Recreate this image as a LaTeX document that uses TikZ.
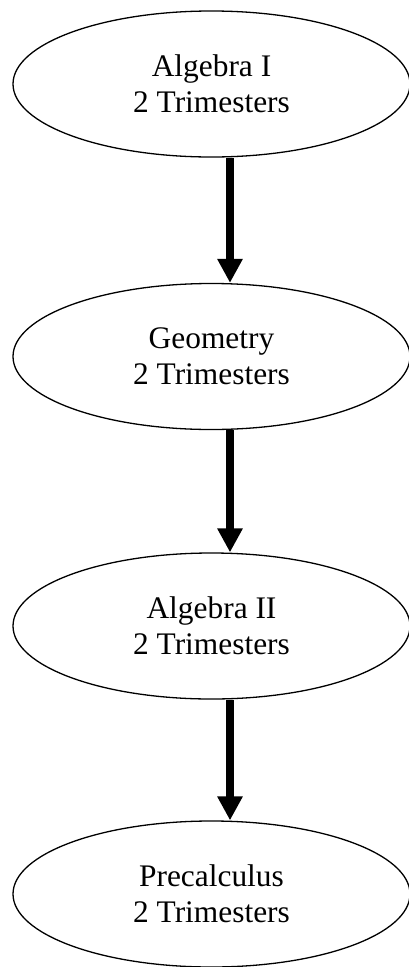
\documentclass[tikz,border=0pt]{standalone}
\usepackage{fontspec}
\setmainfont{Liberation Serif}
\usetikzlibrary{shapes.geometric,arrows.meta}
\begin{document}
\begin{tikzpicture}[x=1pt,y=1pt,
  course/.style={draw=black,line width=1.3pt,ellipse,minimum width=397pt,minimum height=146pt,inner sep=0pt,align=center,font=\fontsize{31.4}{36}\selectfont},
  link/.style={line width=7.5pt,-{Triangle[width=24pt,length=24pt]}}]
\useasboundingbox (0,0) rectangle (409,-967);
\node[course] (a1) at (211.5,-84) {Algebra I\\2 Trimesters};
\node[course] (g) at (211.5,-356.5) {Geometry\\2 Trimesters};
\node[course] (a2) at (211.5,-626) {Algebra II\\2 Trimesters};
\node[course] (pc) at (211.5,-894) {Precalculus\\2 Trimesters};
\coordinate (ax) at (230,0);
\draw[link] (a1.south -| ax) -- (g.north -| ax);
\draw[link] (g.south -| ax) -- (a2.north -| ax);
\draw[link] (a2.south -| ax) -- (pc.north -| ax);
\end{tikzpicture}
\end{document}
